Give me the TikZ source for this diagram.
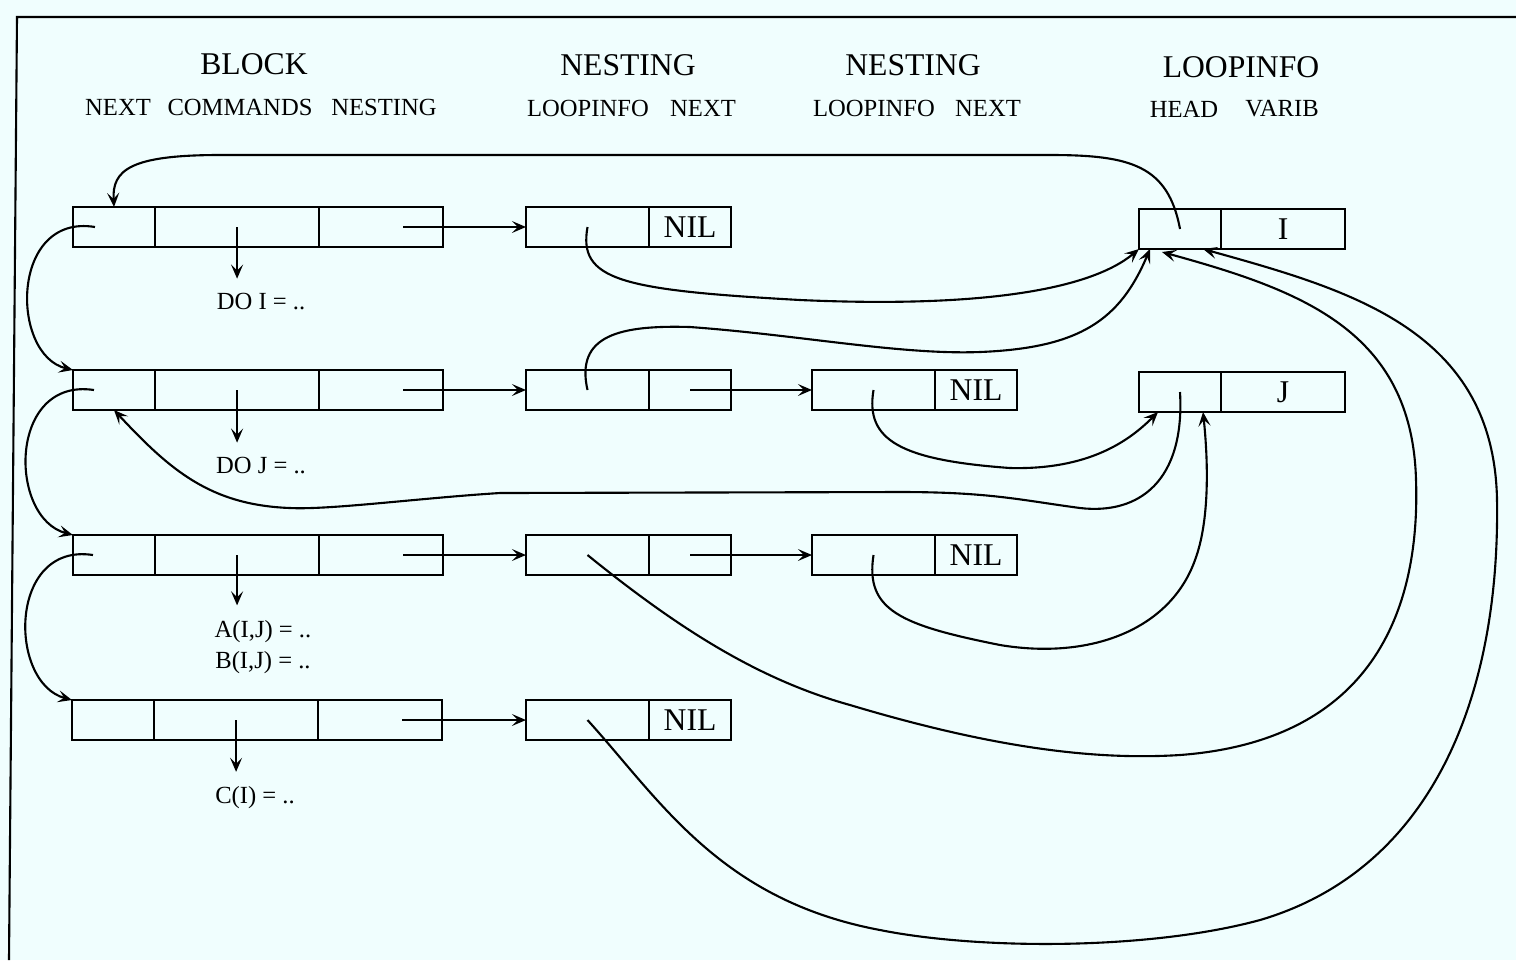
\documentclass[tikz,border=0pt]{standalone}
\usepackage{fontspec}
\setmainfont{Liberation Serif}
\usetikzlibrary{positioning,arrows.meta,calc}
\definecolor{paper}{HTML}{F0FEFE}

\tikzset{
  cell/.style={draw, line width=0.6pt, minimum height=0.4cm, inner sep=0pt, outer sep=0pt,
    font=\fontsize{9}{11}\selectfont},
  nextcell/.style={cell, minimum width=0.82cm},
  cmdcell/.style={cell, minimum width=1.64cm},
  nestcell/.style={cell, minimum width=1.24cm},
  ptrcell/.style={cell, minimum width=1.23cm},
  title/.style={font=\fontsize{9}{11}\selectfont, inner sep=0pt},
  field/.style={font=\fontsize{7}{8.5}\selectfont, inner sep=0pt},
  code/.style={font=\fontsize{7}{8.8}\selectfont, inner sep=0pt, outer ysep=0.15cm, align=center},
  wire/.style={line width=0.6pt},
  link/.style={wire, -{Stealth[length=4pt,width=3.4pt,inset=1.7pt]}},
}

\begin{document}
\begin{tikzpicture}[x=0.01cm,y=-0.01cm]

% -----------------------
% Fond et cadre
% -----------------------
\fill[paper] (0,0) rectangle (1516,960);
\useasboundingbox (0,0) rectangle (1516,960);
\draw[wire] (1516,17) -- (17,17) -- (9,960);

% -----------------------
% Titres
% -----------------------
\node[title] (tblock) at (254,64) {BLOCK};
\node[title] (tnest1) at (628,65) {NESTING};
\node[title] (tnest2) at (913,65) {NESTING};
\node[title] (tloop) at (1241,67) {LOOPINFO};

\node[field] (lbnext) at (118,107) {NEXT};
\node[field] (lbcmd) at (240,107) {COMMANDS};
\node[field] (lbnest) at (384,107) {NESTING};
\node[field] (ln1loop) at (588,108) {LOOPINFO};
\node[field] (ln1next) at (703,108) {NEXT};
\node[field] (ln2loop) at (874,108) {LOOPINFO};
\node[field] (ln2next) at (988,108) {NEXT};
\node[field] (llhead) at (1184,109) {HEAD};
\node[field] (llvarib) at (1282,109) {VARIB};

% -----------------------
% BLOCK
% -----------------------
\node[nextcell] (b1n) at (114,227) {};
\node[cmdcell, right=0pt of b1n] (b1c) {};
\node[nestcell, right=0pt of b1c] (b1s) {};

\node[nextcell] (b2n) at (114,390) {};
\node[cmdcell, right=0pt of b2n] (b2c) {};
\node[nestcell, right=0pt of b2c] (b2s) {};

\node[nextcell] (b3n) at (114,555) {};
\node[cmdcell, right=0pt of b3n] (b3c) {};
\node[nestcell, right=0pt of b3c] (b3s) {};

\node[nextcell] (b4n) at (113,720) {};
\node[cmdcell, right=0pt of b4n] (b4c) {};
\node[nestcell, right=0pt of b4c] (b4s) {};

% -----------------------
% COMMANDS
% -----------------------
\node[code] (do1) at (261,302) {DO I = ..};
\node[code] (do2) at (261,466) {DO J = ..};
\node[code] (asg) at (263,647) {A(I,J) = ..\\B(I,J) = ..};
\node[code] (ci) at (255,798) {C(I) = ..};

\draw[link] (b1c.center) -- (b1c.center |- do1.north);
\draw[link] (b2c.center) -- (b2c.center |- do2.north);
\draw[link] (b3c.center) -- (b3c.center |- asg.north);
\draw[link] (b4c.center) -- (b4c.center |- ci.north);

% -----------------------
% NESTING
% -----------------------
\node[ptrcell] (n1l) at (587.5,227) {};
\node[nextcell, right=0pt of n1l] (n1x) {NIL};
\node[ptrcell] (n2l) at (587.5,390) {};
\node[nextcell, right=0pt of n2l] (n2x) {};
\node[ptrcell] (n3l) at (587.5,555) {};
\node[nextcell, right=0pt of n3l] (n3x) {};
\node[ptrcell] (n4l) at (587.5,720) {};
\node[nextcell, right=0pt of n4l] (n4x) {NIL};

\node[ptrcell] (m2l) at (873.5,390) {};
\node[nextcell, right=0pt of m2l] (m2x) {NIL};
\node[ptrcell] (m3l) at (873.5,555) {};
\node[nextcell, right=0pt of m3l] (m3x) {NIL};

% -----------------------
% LOOPINFO
% -----------------------
\node[nextcell] (li1h) at (1180,229) {};
\node[nestcell, right=0pt of li1h] (li1v) {I};
\node[nextcell] (li2h) at (1180,392) {};
\node[nestcell, right=0pt of li2h] (li2v) {J};

% -----------------------
% Pointeurs droits
% -----------------------
\draw[link] ([xshift=0.22cm]b1s.center) -- (n1l.west);
\draw[link] ([xshift=0.22cm]b2s.center) -- (n2l.west);
\draw[link] ([xshift=0.22cm]b3s.center) -- (n3l.west);
\draw[link] ([xshift=0.22cm]b4s.center) -- (n4l.west);
\draw[link] (n2x.center) -- (m2l.west);
\draw[link] (n3x.center) -- (m3l.west);

% -----------------------
% Chainage NEXT
% -----------------------
\draw[link] ([xshift=-0.19cm]b1n.center) .. controls (10,213) and (10,355) .. (b2n.north west);
\draw[link] ([xshift=-0.2cm]b2n.center) .. controls (8,377) and (8,518) .. (b3n.north west);
\draw[link] ([xshift=-0.21cm]b3n.center) .. controls (8,542) and (8,683) .. (b4n.north west);

% -----------------------
% HEAD -> BLOCK
% -----------------------
\draw[link] (li1h.center) .. controls (1168,165) and (1130,155) .. (1050,155)
  -- (220,155) .. controls (130,155) and (112,170) .. (b1n.north);
\draw[link] (li2h.center) .. controls (1185,480) and (1140,515) .. (1080,508)
  .. controls (1020,500) and (990,492) .. (900,492) -- (500,493)
  .. controls (420,498) and (330,510) .. (290,508)
  .. controls (210,505) and (170,470) .. (b2n.south);

% -----------------------
% LOOPINFO -> I
% -----------------------
\draw[link] (n1l.center) .. controls (578,280) and (620,290) .. (800,300)
  .. controls (980,308) and (1090,290) .. (li1h.south west);
\draw[link] (n2l.center) .. controls (575,335) and (620,325) .. (690,327)
  .. controls (800,335) and (900,355) .. (980,352)
  .. controls (1080,348) and (1120,320) .. ([xshift=0.11cm]li1h.south west);
\draw[link] (n3l.center) .. controls (680,630) and (760,680) .. (850,705)
  .. controls (1000,750) and (1100,760) .. (1180,755)
  .. controls (1380,740) and (1420,600) .. (1416,480)
  .. controls (1412,330) and (1300,290) .. ([xshift=0.23cm,yshift=-0.03cm]li1h.south west);
\draw[link] (n4l.center) .. controls (660,800) and (720,900) .. (880,930)
  .. controls (980,950) and (1150,950) .. (1260,920)
  .. controls (1430,870) and (1500,700) .. (1497,500)
  .. controls (1494,330) and (1350,290) .. ([xshift=0.64cm]li1h.south west);

% -----------------------
% LOOPINFO -> J
% -----------------------
\draw[link] (m2l.center) .. controls (865,440) and (900,460) .. (1010,468)
  .. controls (1090,470) and (1130,440) .. ([xshift=0.19cm]li2h.south west);
\draw[link] (m3l.center) .. controls (865,610) and (900,625) .. (1000,645)
  .. controls (1090,660) and (1170,630) .. (1195,560)
  .. controls (1210,520) and (1208,460) .. ([xshift=0.64cm]li2h.south west);

\end{tikzpicture}
\end{document}
